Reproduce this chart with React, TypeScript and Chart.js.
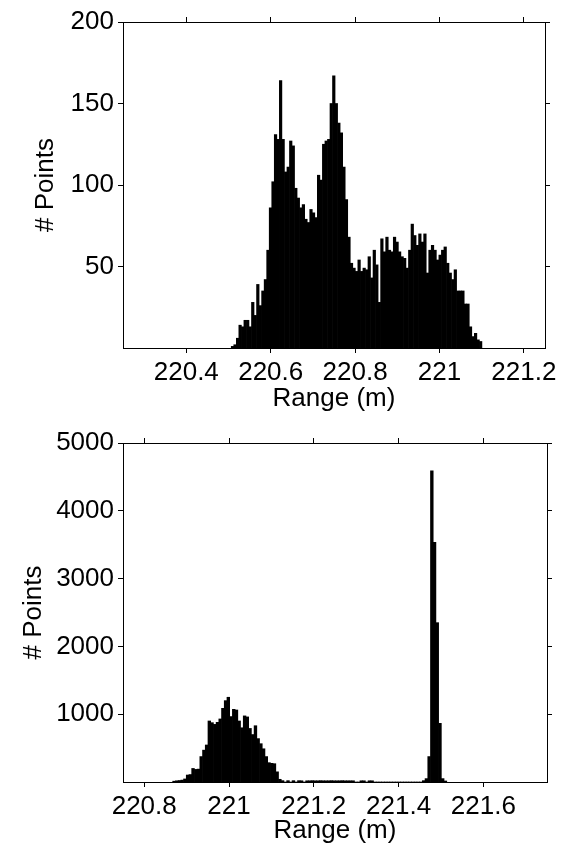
import React, { useEffect, useRef } from 'react';
import { Chart, registerables } from 'chart.js';

Chart.register(...registerables);

const FONT_FAMILY = "'Liberation Sans', Arial, Helvetica, sans-serif";

// ---------- Top histogram ----------
const topBinStart = 220.5065;
const topBinWidth = 0.006;
const topCounts = [
  1, 2, 6, 14, 13, 17, 17, 13, 28, 20,
  39, 26, 35, 42, 60, 86, 102, 131, 128, 164,
  128, 108, 111, 127, 124, 98, 92, 86, 88, 79,
  77, 85, 83, 80, 106, 103, 125, 127, 128, 150,
  167, 150, 138, 132, 111, 91, 68, 52, 49, 47,
  54, 47, 49, 48, 56, 43, 60, 51, 28, 67,
  59, 68, 60, 59, 68, 65, 59, 56, 55, 49,
  60, 76, 69, 63, 70, 65, 70, 46, 60, 63,
  60, 54, 57, 60, 62, 52, 46, 42, 48, 35,
  35, 35, 27, 27, 13, 7, 9, 5, 4,
];
const topXRange = [220.25, 221.25];
const topYRange = [0, 200];
const topXTicks = [220.4, 220.6, 220.8, 221.0, 221.2];
const topXTickLabels = ['220.4', '220.6', '220.8', '221', '221.2'];
const topYTicks = [50, 100, 150, 200];
const topYTickLabels = ['50', '100', '150', '200'];

// ---------- Bottom histogram ----------
const bottomBinStart = 220.8672;
const bottomBinWidth = 0.0064;
const bottomCounts = [
  12, 18, 22, 28, 45, 103, 110, 200, 186, 190,
  375, 470, 546, 900, 875, 850, 880, 930, 1087, 1200,
  1250, 965, 1072, 1062, 900, 800, 975, 960, 790, 700,
  830, 640, 565, 490, 375, 285, 275, 270, 150, 40,
  20, 0, 20, 0, 20, 0, 20, 18, 0, 18,
  18, 20, 18, 18, 20, 18, 18, 18, 20, 18,
  18, 18, 20, 18, 18, 18, 18, 0, 0, 18,
  18, 0, 18, 18, 0, 0, 0, 0, 0, 0,
  0, 0, 0, 0, 0, 0, 0, 0, 0, 0,
  0, 0, 20, 50, 375, 4590, 3535, 2350, 865, 50,
  15,
];
const bottomXRange = [220.75, 221.75];
const bottomYRange = [0, 5000];
const bottomXTicks = [220.8, 221.0, 221.2, 221.4, 221.6];
const bottomXTickLabels = ['220.8', '221', '221.2', '221.4', '221.6'];
const bottomYTicks = [1000, 2000, 3000, 4000, 5000];
const bottomYTickLabels = ['1000', '2000', '3000', '4000', '5000'];

const xTitle = 'Range (m)';
const yTitle = '# Points';

type HistSpec = {
  counts: number[];
  binStart: number;
  binWidth: number;
  xRange: number[];
  yRange: number[];
  xTicks: number[];
  xTickLabels: string[];
  yTicks: number[];
  yTickLabels: string[];
  layout: {
    leftW: number;
    rightW: number;
    topH: number;
    bottomH: number;
    xTickPad: number;
    xTitlePad: number;
    yTickPad: number;
    yTitlePad: number;
  };
};

function buildConfig(s: HistSpec): any {
  const data = s.counts.map((c, i) => ({ x: s.binStart + (i + 0.5) * s.binWidth, y: c }));
  const font = { family: FONT_FAMILY, size: 26, weight: 'normal' as const };
  const grid = {
    drawOnChartArea: false,
    drawTicks: true,
    tickLength: 5,
    color: '#000',
    lineWidth: 1,
    offset: false,
  };
  const border = { display: true, color: '#000', width: 1 };
  const setXTicks = (ax: any) => {
    ax.ticks = s.xTicks.map((v) => ({ value: v }));
  };
  const setYTicks = (ax: any) => {
    ax.ticks = s.yTicks.map((v) => ({ value: v }));
  };
  return {
    type: 'bar',
    data: {
      datasets: [
        {
          data,
          backgroundColor: '#000',
          borderWidth: 0,
          barPercentage: 1,
          categoryPercentage: 1,
          xAxisID: 'x',
          yAxisID: 'y',
        },
      ],
    },
    options: {
      animation: false,
      responsive: false,
      maintainAspectRatio: false,
      events: [],
      layout: { padding: 0 },
      plugins: {
        legend: { display: false },
        tooltip: { enabled: false },
        title: { display: false },
      },
      scales: {
        x: {
          type: 'linear',
          position: 'bottom',
          min: s.xRange[0],
          max: s.xRange[1],
          offset: false,
          grid,
          border,
          afterBuildTicks: setXTicks,
          ticks: {
            callback: (_v: any, i: number) => s.xTickLabels[i],
            color: '#000',
            font,
            padding: s.layout.xTickPad,
            autoSkip: false,
            maxRotation: 0,
            minRotation: 0,
          },
          title: {
            display: true,
            text: xTitle,
            color: '#000',
            font,
            padding: { top: 0, bottom: s.layout.xTitlePad },
          },
          afterFit: (ax: any) => {
            ax.height = s.layout.bottomH;
          },
        },
        x2: {
          type: 'linear',
          position: 'top',
          min: s.xRange[0],
          max: s.xRange[1],
          offset: false,
          grid,
          border,
          afterBuildTicks: setXTicks,
          ticks: { display: false },
          afterFit: (ax: any) => {
            ax.height = s.layout.topH;
          },
        },
        y: {
          type: 'linear',
          position: 'left',
          min: s.yRange[0],
          max: s.yRange[1],
          grid,
          border,
          afterBuildTicks: setYTicks,
          ticks: {
            callback: (_v: any, i: number) => s.yTickLabels[i],
            color: '#000',
            font,
            padding: s.layout.yTickPad,
            autoSkip: false,
          },
          title: {
            display: true,
            text: yTitle,
            color: '#000',
            font,
            padding: { top: s.layout.yTitlePad, bottom: 0 },
          },
          afterFit: (ax: any) => {
            ax.width = s.layout.leftW;
          },
        },
        y2: {
          type: 'linear',
          position: 'right',
          min: s.yRange[0],
          max: s.yRange[1],
          grid,
          border,
          afterBuildTicks: setYTicks,
          ticks: { display: false },
          afterFit: (ax: any) => {
            ax.width = s.layout.rightW;
          },
        },
      },
    },
  };
}

const topSpec: HistSpec = {
  counts: topCounts,
  binStart: topBinStart,
  binWidth: topBinWidth,
  xRange: topXRange,
  yRange: topYRange,
  xTicks: topXTicks,
  xTickLabels: topXTickLabels,
  yTicks: topYTicks,
  yTickLabels: topYTickLabels,
  layout: { leftW: 123, rightW: 18, topH: 22, bottomH: 72, xTickPad: 4, xTitlePad: 6, yTickPad: 4, yTitlePad: 30 },
};

const bottomSpec: HistSpec = {
  counts: bottomCounts,
  binStart: bottomBinStart,
  binWidth: bottomBinWidth,
  xRange: bottomXRange,
  yRange: bottomYRange,
  xTicks: bottomXTicks,
  xTickLabels: bottomXTickLabels,
  yTicks: bottomYTicks,
  yTickLabels: bottomYTickLabels,
  layout: { leftW: 123, rightW: 16, topH: 33, bottomH: 68, xTickPad: 4, xTitlePad: 4, yTickPad: 4, yTitlePad: 18 },
};

function HistChart({ spec, top, height }: { spec: HistSpec; top: number; height: number }) {
  const ref = useRef<HTMLCanvasElement | null>(null);
  useEffect(() => {
    if (!ref.current) return;
    const chart = new Chart(ref.current, buildConfig(spec));
    return () => {
      chart.destroy();
    };
  }, [spec]);
  return (
    <canvas
      ref={ref}
      width={563}
      height={height}
      style={{ position: 'absolute', left: 0, top, width: 563, height, display: 'block' }}
    />
  );
}

export default function App() {
  return (
    <div
      style={{
        position: 'absolute',
        left: 0,
        top: 0,
        width: 563,
        height: 850,
        background: '#fff',
        overflow: 'hidden',
      }}
    >
      <HistChart spec={topSpec} top={0} height={420} />
      <HistChart spec={bottomSpec} top={410} height={440} />
    </div>
  );
}
